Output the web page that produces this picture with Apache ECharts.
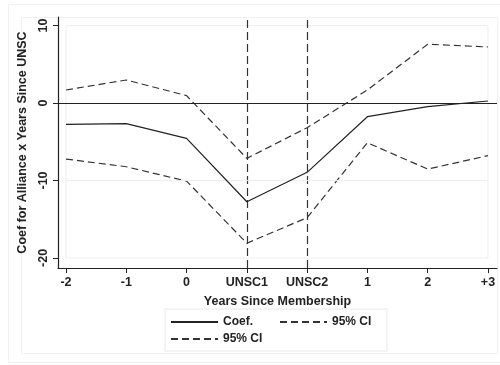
<!DOCTYPE html>
<html>
<head>
<meta charset="utf-8">
<script src="https://cdn.jsdelivr.net/npm/echarts@6/dist/echarts.min.js"></script>
<style>
  html, body { margin: 0; padding: 0; background: #fff; }
  #chart { width: 500px; height: 365px; }
</style>
</head>
<body>
<div id="chart"></div>
<script>
// categories on the x axis
var cats = ['-2', '-1', '0', 'UNSC1', 'UNSC2', '1', '2', '+3'];
// coefficient and its 95% band
var coef  = [-2.75, -2.67, -4.56, -12.75, -8.95, -1.77, -0.47, 0.26];
var upper = [1.68, 2.97, 0.95, -7.15, -3.19, 1.68, 7.58, 7.23];
var lower = [-7.24, -8.23, -10.08, -18.1, -14.8, -5.13, -8.53, -6.8];
var yTicks = [-20, -10, 0, 10];
var xTicks = cats.map(function (c, i) { return i; });

function pairs(arr) {
    return arr.map(function (v, i) { return [i, v]; });
}

var font = 'Liberation Sans, Arial, sans-serif';
var chart = echarts.init(document.getElementById('chart'));

var option = {
    animation: false,
    backgroundColor: '#fff',
    textStyle: { fontFamily: font },
    graphic: [
        // faint outer frames (graph regions)
        { type: 'rect', shape: { x: 8.5, y: 4.5, width: 495, height: 358 }, style: { fill: 'none', stroke: '#f1f1f1', lineWidth: 1 }, silent: true },
        { type: 'rect', shape: { x: 21.5, y: 17.5, width: 476, height: 336 }, style: { fill: 'none', stroke: '#f1f1f1', lineWidth: 1 }, silent: true }
    ],
    grid: { left: 58, right: 3, top: 17, bottom: 97 },
    legend: {
        left: 165,
        top: 309,
        width: 240,
        padding: [7, 4, 6, 5],
        itemWidth: 47,
        itemHeight: 12,
        itemGap: 5,
        borderColor: '#e8e8e8',
        borderWidth: 1,
        backgroundColor: '#fff',
        itemStyle: { opacity: 0 },
        data: ['Coef.', 'Upper CI', 'Lower CI'],
        formatter: function (n) { return n === 'Coef.' ? n : '95% CI'; },
        textStyle: { fontFamily: font, fontWeight: 'bold', fontSize: 12, color: '#222', width: 51, lineHeight: 12 }
    },
    xAxis: {
        type: 'value',
        min: -0.133,
        max: 7.15,
        name: 'Years Since Membership',
        nameLocation: 'middle',
        nameGap: 27,
        nameTextStyle: { fontFamily: font, fontWeight: 'bold', fontSize: 12.5, color: '#222' },
        axisLine: { show: true, onZero: false, lineStyle: { color: '#222', width: 1.2 } },
        axisTick: { show: true, length: 5, customValues: xTicks, lineStyle: { color: '#222' } },
        axisLabel: {
            customValues: xTicks,
            margin: 8,
            fontFamily: font, fontWeight: 'bold', fontSize: 12.5, color: '#222',
            formatter: function (v) { return cats[Math.round(v)]; }
        },
        splitLine: { show: false }
    },
    yAxis: {
        type: 'value',
        min: -21.3,
        max: 11.1,
        name: 'Coef for Alliance x Years Since UNSC',
        nameLocation: 'middle',
        nameGap: 25,
        nameTextStyle: { fontFamily: font, fontWeight: 'bold', fontSize: 12.5, color: '#222' },
        axisLine: { show: true, onZero: false, lineStyle: { color: '#222', width: 1.2 } },
        axisTick: { show: true, length: 5, customValues: yTicks, lineStyle: { color: '#222' } },
        axisLabel: {
            customValues: yTicks,
            rotate: 90,
            margin: 8,
            fontFamily: font, fontWeight: 'bold', fontSize: 12.5, color: '#222'
        },
        splitLine: { show: false }
    },
    series: [
        {
            name: 'Coef.',
            type: 'line',
            data: pairs(coef),
            symbol: 'none',
            lineStyle: { color: '#222', width: 1.2 },
            itemStyle: { color: '#222' },
            z: 5,
            markArea: {
                silent: true,
                itemStyle: { color: 'rgba(0,0,0,0)', borderColor: '#eeeeee', borderWidth: 1 },
                data: [[{ coord: [0, -20] }, { coord: [7, 10] }]]
            },
            markLine: {
                silent: true,
                symbol: 'none',
                label: { show: false },
                data: [
                    { yAxis: 0, lineStyle: { color: '#222', type: 'solid', width: 1.2 } },
                    { xAxis: 3, lineStyle: { color: '#333', type: [8, 4], width: 1.2 } },
                    { xAxis: 4, lineStyle: { color: '#333', type: [8, 4], width: 1.2 } },
                    [{ coord: [0, -10], lineStyle: { color: '#eeeeee', type: 'solid', width: 1 } }, { coord: [7, -10] }]
                ]
            }
        },
        {
            name: 'Upper CI',
            type: 'line',
            data: pairs(upper),
            symbol: 'none',
            lineStyle: { color: '#333', width: 1.2, type: [7, 4] },
            itemStyle: { color: '#333' },
            z: 4
        },
        {
            name: 'Lower CI',
            type: 'line',
            data: pairs(lower),
            symbol: 'none',
            lineStyle: { color: '#333', width: 1.2, type: [7, 4] },
            itemStyle: { color: '#333' },
            z: 4
        }
    ]
};

chart.setOption(option);
window.onresize = function () {
    chart.resize();
};
</script>
</body>
</html>
